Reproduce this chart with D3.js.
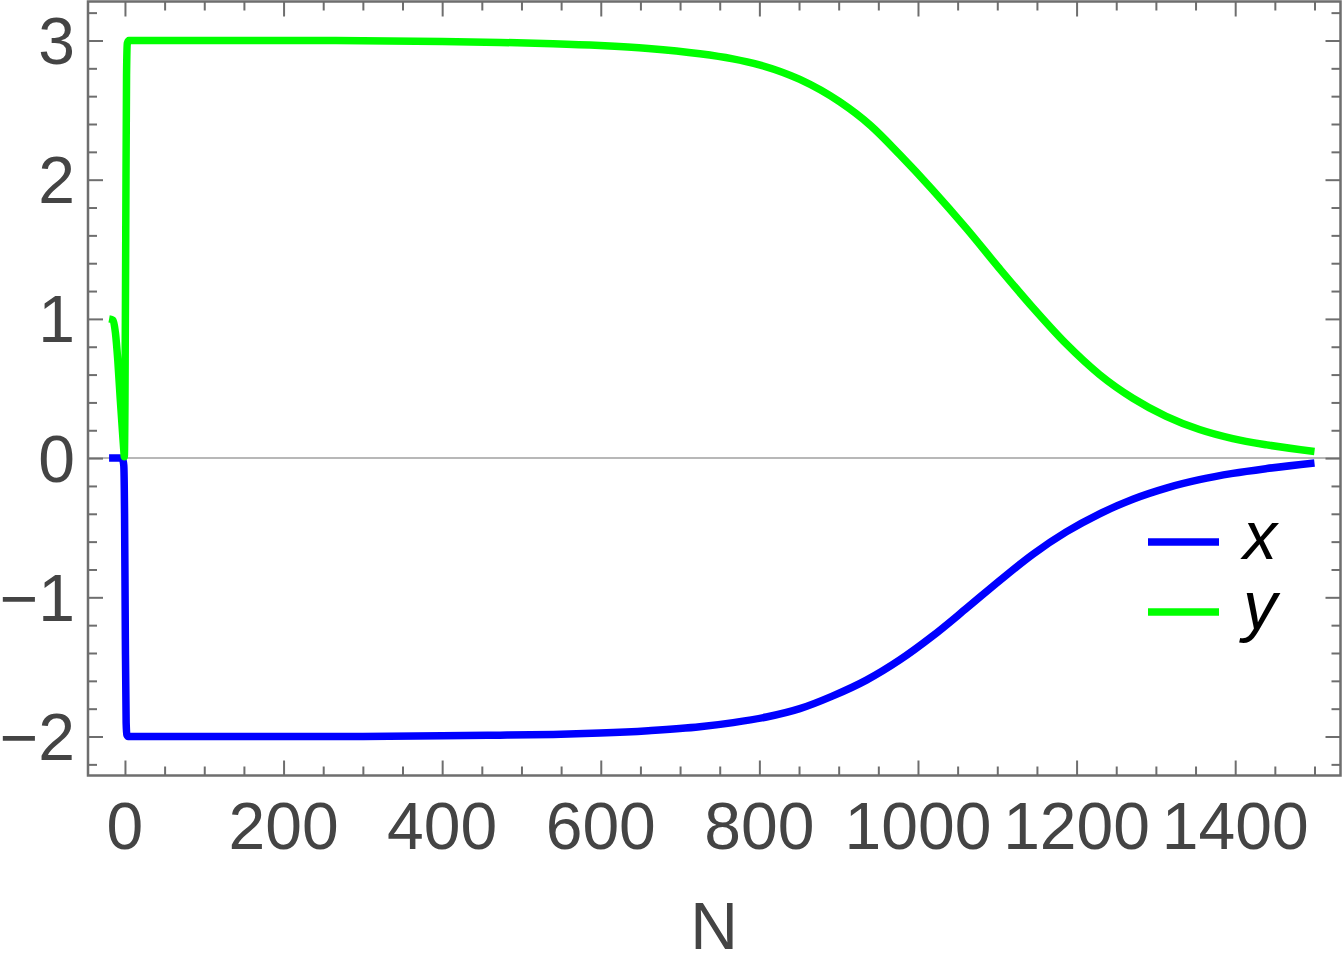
<!DOCTYPE html>
<html>
<head>
<meta charset="utf-8">
<script src="https://cdn.jsdelivr.net/npm/d3@7"></script>
<style>
  body { margin: 0; background: #fff; }
  svg { display: block; }
</style>
</head>
<body>
<div id="viz-container"></div>
<script>
// data
let nX = [-20, -12, -6, -3, -1.5, -0.5, 0.5, 1.5, 2.5, 4, 10, 100, 200, 300, 400, 473, 540, 599, 660, 725, 767, 809, 851, 892, 935, 977, 1018, 1061, 1103, 1145, 1187, 1229, 1271, 1313, 1355, 1397, 1440, 1500];
let xVals = [0, 0, 0, -0.01, -0.05, -0.4, -1.3, -1.9, -1.99, -2.0, -2.0, -2.0, -2.0, -1.999, -1.995, -1.99, -1.985, -1.975, -1.958, -1.93, -1.90, -1.86, -1.80, -1.71, -1.595, -1.45, -1.28, -1.08, -0.88, -0.69, -0.53, -0.40, -0.295, -0.215, -0.155, -0.11, -0.075, -0.035];

let nY = [-20, -15, -12, -9, -6, -3, -1.5, -0.8, 0, 1, 2, 3, 5, 10, 100, 200, 300, 400, 473, 540, 599, 660, 725, 765, 800, 851, 901, 940, 977, 1018, 1061, 1103, 1145, 1187, 1229, 1271, 1313, 1355, 1397, 1440, 1500];
let yVals = [1.0, 0.99, 0.9, 0.7, 0.43, 0.18, 0.06, 0.01, 0.4, 1.6, 2.75, 2.98, 3.0, 3.0, 3.0, 3.0, 2.998, 2.993, 2.986, 2.977, 2.964, 2.943, 2.905, 2.87, 2.825, 2.72, 2.56, 2.39, 2.18, 1.93, 1.65, 1.36, 1.08, 0.82, 0.60, 0.43, 0.30, 0.205, 0.14, 0.095, 0.048];

let xMajor = [0, 200, 400, 600, 800, 1000, 1200, 1400];
let yMajor = [-2, -1, 0, 1, 2, 3];
let seriesNames = ["x", "y"];
let seriesColors = ["#0000ff", "#00ff00"];

let w = 1342, h = 954;
let plotL = 88, plotR = 1340.5, plotT = 1.5, plotB = 775.5;

let viz = d3.select("#viz-container")
    .append("svg")
    .attr("width", w)
    .attr("height", h);

let xScale = d3.scaleLinear().domain([-46.6, 1532.8]).range([plotL, plotR]);
let yScale = d3.scaleLinear().domain([-2.28, 3.28]).range([plotB, plotT]);

let xMinor = d3.range(0, 1501, 50).filter(v => v % 200 !== 0);
let yMinor = d3.range(-11, 17).map(v => +(v * 0.2).toFixed(1)).filter(v => Math.abs(v - Math.round(v)) > 0.01);

let tickColor = "#6e6e6e";
let labelColor = "#444";

// zero line
viz.append("line")
    .attr("x1", plotL).attr("x2", plotR)
    .attr("y1", yScale(0)).attr("y2", yScale(0))
    .attr("stroke", "#a0a0a0")
    .attr("stroke-width", 1.5);

function styleAxis(g) {
    g.select(".domain").remove();
    g.selectAll(".tick line").attr("stroke", tickColor).attr("stroke-width", 2);
    g.selectAll(".tick text").remove();
}

// ticks on all four sides, pointing inward
viz.append("g").attr("transform", "translate(0," + plotB + ")")
    .call(d3.axisBottom(xScale).tickValues(xMajor).tickSize(-15)).call(styleAxis);
viz.append("g").attr("transform", "translate(0," + plotB + ")")
    .call(d3.axisBottom(xScale).tickValues(xMinor).tickSize(-9)).call(styleAxis);
viz.append("g").attr("transform", "translate(0," + plotT + ")")
    .call(d3.axisTop(xScale).tickValues(xMajor).tickSize(-15)).call(styleAxis);
viz.append("g").attr("transform", "translate(0," + plotT + ")")
    .call(d3.axisTop(xScale).tickValues(xMinor).tickSize(-9)).call(styleAxis);
viz.append("g").attr("transform", "translate(" + plotL + ",0)")
    .call(d3.axisLeft(yScale).tickValues(yMajor).tickSize(-15)).call(styleAxis);
viz.append("g").attr("transform", "translate(" + plotL + ",0)")
    .call(d3.axisLeft(yScale).tickValues(yMinor).tickSize(-9)).call(styleAxis);
viz.append("g").attr("transform", "translate(" + plotR + ",0)")
    .call(d3.axisRight(yScale).tickValues(yMajor).tickSize(-15)).call(styleAxis);
viz.append("g").attr("transform", "translate(" + plotR + ",0)")
    .call(d3.axisRight(yScale).tickValues(yMinor).tickSize(-9)).call(styleAxis);

// frame
viz.append("rect")
    .attr("x", plotL).attr("y", plotT)
    .attr("width", plotR - plotL).attr("height", plotB - plotT)
    .attr("fill", "none")
    .attr("stroke", tickColor)
    .attr("stroke-width", 2.5);

// tick labels
let fmt = d3.format("d");
viz.selectAll(".xlab").data(xMajor).enter()
    .append("text")
    .attr("class", "xlab")
    .attr("x", d => xScale(d))
    .attr("y", 849)
    .attr("text-anchor", "middle")
    .attr("font-family", "Liberation Sans, Arial, sans-serif")
    .attr("font-size", 66)
    .attr("fill", labelColor)
    .text(fmt);

viz.selectAll(".ylab").data(yMajor).enter()
    .append("text")
    .attr("class", "ylab")
    .attr("x", 75)
    .attr("y", d => yScale(d) + 23.5)
    .attr("text-anchor", "end")
    .attr("font-family", "Liberation Sans, Arial, sans-serif")
    .attr("font-size", 66)
    .attr("fill", labelColor)
    .text(fmt);

viz.append("text")
    .attr("x", 714)
    .attr("y", 949)
    .attr("text-anchor", "middle")
    .attr("font-family", "Liberation Sans, Arial, sans-serif")
    .attr("font-size", 66)
    .attr("fill", labelColor)
    .text("N");

// curves
viz.append("clipPath").attr("id", "plotclip")
    .append("rect")
    .attr("x", plotL).attr("y", plotT)
    .attr("width", plotR - plotL).attr("height", plotB - plotT);

let lineGenerator = d3.line()
    .x(d => xScale(d[0]))
    .y(d => yScale(d[1]))
    .curve(d3.curveMonotoneX);

let seriesData = [
    nX.map((n, i) => [n, xVals[i]]),
    nY.map((n, i) => [n, yVals[i]])
];

viz.append("g").attr("clip-path", "url(#plotclip)")
    .selectAll("path").data(seriesData).enter()
    .append("path")
    .attr("fill", "none")
    .attr("stroke", (d, i) => seriesColors[i])
    .attr("stroke-width", 7.5)
    .attr("stroke-linejoin", "round")
    .attr("d", lineGenerator);

// legend
let legend = viz.append("g");
seriesNames.forEach(function(name, i) {
    let ly = 542 + i * 70;
    legend.append("line")
        .attr("x1", 1148).attr("x2", 1219)
        .attr("y1", ly).attr("y2", ly)
        .attr("stroke", seriesColors[i])
        .attr("stroke-width", 7.5);
    legend.append("text")
        .attr("x", 1243)
        .attr("y", ly + 17)
        .attr("font-family", "Liberation Sans, Arial, sans-serif")
        .attr("font-style", "italic")
        .attr("font-size", 68)
        .attr("fill", "#000")
        .text(name);
});
</script>
</body>
</html>
